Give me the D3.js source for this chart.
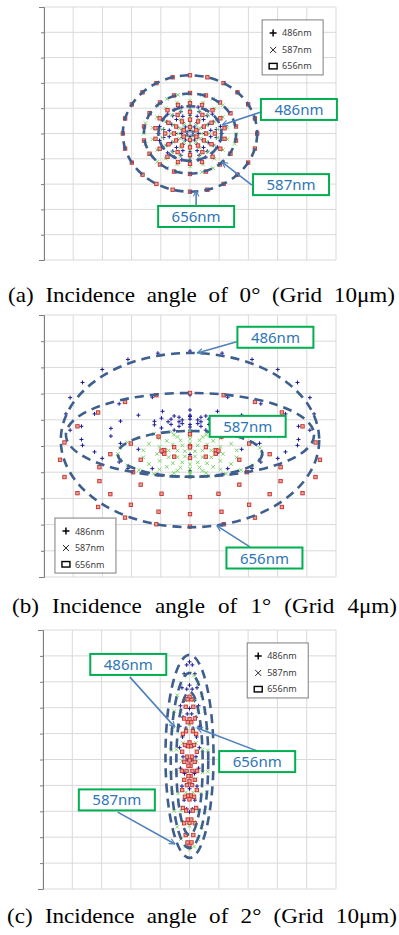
<!DOCTYPE html>
<html>
<head>
<meta charset="utf-8">
<script src="https://cdn.jsdelivr.net/npm/d3@7"></script>
<style>
  body { margin: 0; background: #fff; }
  .caption { font-family: "Liberation Serif", "Times New Roman", Times, serif; }
</style>
</head>
<body>
<svg class="chart"></svg>
<script>
let width = 399,
  height = 935;

const waves = ["486nm", "587nm", "656nm"];
const captions = [
  "(a) Incidence angle of 0° (Grid 10μm)",
  "(b) Incidence angle of 1° (Grid 4μm)",
  "(c) Incidence angle of 2° (Grid 10μm)"
];
const gridSteps = [10, 4, 10]; // μm per grid cell

// ray rings: [centre y, half width, half height, rays] in μm
const a486 = [[0, 1.2, 1.2, 6], [0, 3, 3, 12], [0, 5, 5, 12], [0, 7.2, 7.2, 18], [0, 9.2, 9.2, 18], [0, 10.8, 10.8, 24]];
const a587 = [[0, 1.8, 1.8, 6], [0, 4, 4, 12], [0, 6.5, 6.5, 12], [0, 9.5, 9.5, 18], [0, 13, 13, 18], [0, 15.8, 15.8, 24]];
const a656 = [[0, 2.5, 2.5, 6], [0, 5.5, 5.5, 12], [0, 8.5, 8.5, 12], [0, 12, 12, 18], [0, 16, 16, 18], [0, 23, 23, 24]];

const b486 = [[3.7, 1.5, 0.4, 8], [3.7, 3, 0.8, 12], [3.5, 5, 1.2, 14], [2.1, 11, 3.4, 18], [2.0, 15.1, 5.8, 18], [4.9, 17, 9.6, 24]];
const b587 = [[-1.2, 0.8, 0.8, 6], [-1.2, 1.8, 1.6, 10], [-1.2, 3, 2.3, 14], [-1.2, 4.5, 2.8, 16], [-1.2, 6.5, 3.1, 18], [-1.2, 9.9, 3.5, 24]];
const b656 = [[-0.9, 3.7, 0.9, 10], [-4.0, 7.8, 3.8, 12], [-4.3, 12.6, 6.1, 18], [-2.1, 17.8, 10.2, 24]];

const c486 = [[8.7, 1.3, 11, 10], [8.7, 2.4, 20, 16], [8.7, 3.4, 29, 22]];
const c587 = [[-0.6, 2.5, 14, 12], [-0.6, 4.5, 25, 18], [-0.6, 6.3, 34, 26]];
const c656 = [[-4.4, 0.4, 4, 6], [-4.4, 1, 11, 12], [-4.4, 1.8, 20, 18], [-4.4, 2.6, 28.6, 24]];

// dashed envelopes drawn over the spots: [centre y, half width, half height]
const aOutline = [[0, 10.8, 10.8], [0, 15.8, 15.8], [0, 23, 23]];
const bOutline = [[0.9, 17.7, 13.3], [1.7, 17.0, 6.4], [-1.2, 9.9, 3.5]];
const cOutline = [[1.2, 8.2, 39.2], [-0.4, 6.4, 33.8], [-1.5, 4.5, 27.6]];

// callouts: [label, box x, box y, arrow from x, from y, to x, to y] in μm
const aCallouts = [["486nm", 37.3, 9.5, 24.3, 8.5, 11.0, 3.4], ["587nm", 34.6, -20.2, 21.2, -20.4, 11.0, -11.3], ["656nm", 2.1, -32.8, 2.1, -28.7, 2.1, -22.7]];
const bCallouts = [["486nm", 11.7, 16.6, 6.4, 15.9, 1.0, 14.2], ["587nm", 7.9, 3.0], ["656nm", 10.2, -17.1, 8.2, -15.4, 3.7, -12.2]];
const cCallouts = [["486nm", -20.9, 36.7, -20.4, 31.9, -5.0, 12.5], ["656nm", 23.1, -0.8, 23.1, 3.3, 2.6, 12.2], ["587nm", -24.8, -15.6, -24.5, -20.3, -5.0, -32.6]];

// legend top-left corner in μm
const legendAt = [[24.7, 44.9], [-18.5, -11.0], [19.7, 45.0]];

const spotSets = [[a486, a587, a656], [b486, b587, b656], [c486, c587, c656]];
const outlines = [aOutline, bOutline, cOutline];
const callouts = [aCallouts, bCallouts, cCallouts];

// page layout of the three plots
const frames = [
  { left: 44, right: 336, top: 7, bottom: 260, capY: 302, capX: [8, 395] },
  { left: 44, right: 336, top: 315, bottom: 577, capY: 613, capX: [12, 397] },
  { left: 43, right: 336, top: 630, bottom: 889, capY: 923, capX: [7, 397] }
];
const capStretch = 1.1; // the caption face is a little wider than Times

let svg = d3.select(".chart").attr("width", width).attr("height", height);

svg.append("defs").append("marker")
  .attr("id", "head")
  .attr("viewBox", "0 0 10 10")
  .attr("refX", 9).attr("refY", 5)
  .attr("markerWidth", 7).attr("markerHeight", 7)
  .attr("markerUnits", "userSpaceOnUse")
  .attr("orient", "auto")
  .append("path")
  .attr("d", "M1,1 L9,5 L1,9")
  .attr("fill", "none")
  .attr("stroke", "#4f81bd")
  .attr("stroke-width", 1.6);

const plusPath = "M-2,0H2M0,-2V2";
const crossPath = "M-1.8,-1.8L1.8,1.8M-1.8,1.8L1.8,-1.8";

function rayPoints(rings) {
  return rings.flatMap(([cy, rx, ry, n]) =>
    d3.range(n).map(k => {
      let t = (2 * Math.PI * k) / n - Math.PI / 2;
      return [rx * Math.cos(t), cy + ry * Math.sin(t)];
    })
  );
}

function drawMarker(sel, i) {
  if (i === 0) {
    sel.append("path").attr("d", plusPath).attr("stroke", "#1c1c96").attr("stroke-width", 1);
  } else if (i === 1) {
    sel.append("path").attr("d", crossPath).attr("stroke", "#6fd35a").attr("stroke-width", 0.9);
  } else {
    sel.append("rect").attr("x", -1.7).attr("y", -1.7).attr("width", 3.4).attr("height", 3.4)
      .attr("fill", "#e6a29a").attr("stroke", "#c8302a").attr("stroke-width", 0.9);
  }
}

frames.forEach((f, p) => {
  let step = gridSteps[p];
  let x = d3.scaleLinear().domain([-5 * step, 5 * step]).range([f.left, f.right]);
  let y = d3.scaleLinear().domain([-5 * step, 5 * step]).range([f.bottom, f.top]);
  let g = svg.append("g");
  let ticks = d3.range(-5, 6).map(k => k * step);

  // grid
  g.selectAll(".vgrid").data(ticks).enter().append("line")
    .attr("x1", d => x(d)).attr("x2", d => x(d))
    .attr("y1", f.top).attr("y2", f.bottom)
    .attr("stroke", "#d9d9d9").attr("stroke-width", 1);
  g.selectAll(".hgrid").data(ticks).enter().append("line")
    .attr("x1", f.left).attr("x2", f.right)
    .attr("y1", d => y(d)).attr("y2", d => y(d))
    .attr("stroke", "#d9d9d9").attr("stroke-width", 1);

  // left axis, no labels
  let ax = g.append("g").attr("transform", `translate(${f.left},0)`)
    .call(d3.axisLeft(y).tickValues(ticks).tickSizeInner(3).tickSizeOuter(5).tickFormat(""));
  ax.selectAll("path,line").attr("stroke", "#7f7f7f");

  // spots: 486 underneath, then 587, 656 on top
  [0, 1, 2].forEach(i => {
    g.selectAll(".s" + i).data(rayPoints(spotSets[p][i])).enter().append("g")
      .attr("transform", d => `translate(${x(d[0])},${y(d[1])})`)
      .each(function () { drawMarker(d3.select(this), i); });
  });

  // dashed envelopes
  g.selectAll(".env").data(outlines[p]).enter().append("ellipse")
    .attr("cx", x(0))
    .attr("cy", d => y(d[0]))
    .attr("rx", d => x(d[1]) - x(0))
    .attr("ry", d => y(0) - y(d[2]))
    .attr("fill", "none")
    .attr("stroke", "#3e5f8e")
    .attr("stroke-width", 2.6)
    .attr("stroke-dasharray", "9,6");

  // callouts
  callouts[p].forEach(c => {
    if (c.length > 3) {
      g.append("line")
        .attr("x1", x(c[3])).attr("y1", y(c[4]))
        .attr("x2", x(c[5])).attr("y2", y(c[6]))
        .attr("stroke", "#4f81bd").attr("stroke-width", 1.6)
        .attr("marker-end", "url(#head)");
    }
    g.append("rect")
      .attr("x", x(c[1]) - 38).attr("y", y(c[2]) - 10.5)
      .attr("width", 76).attr("height", 21)
      .attr("fill", "#fff").attr("stroke", "#00b050").attr("stroke-width", 2);
    g.append("text")
      .attr("x", x(c[1])).attr("y", y(c[2]) + 5.5)
      .attr("text-anchor", "middle")
      .attr("font-family", "'Noto Sans', sans-serif")
      .attr("font-size", 15)
      .attr("fill", "#2e75b6")
      .text(c[0]);
  });

  // legend
  let lx = x(legendAt[p][0]), ly = y(legendAt[p][1]);
  let lg = g.append("g").attr("transform", `translate(${lx},${ly})`);
  lg.append("rect").attr("width", 61).attr("height", 55)
    .attr("fill", "#fff").attr("stroke", "#7f7f7f").attr("stroke-width", 1);
  waves.forEach((w, i) => {
    let row = lg.append("g").attr("transform", `translate(11,${13 + i * 16.5})`);
    if (i === 0) row.append("path").attr("d", "M-3.5,0H3.5M0,-3.5V3.5").attr("stroke", "#000").attr("stroke-width", 1.5);
    else if (i === 1) row.append("path").attr("d", "M-3,-2.5L3,3.5M-3,3.5L3,-2.5").attr("stroke", "#222").attr("stroke-width", 1);
    else row.append("rect").attr("x", -4).attr("y", -2.5).attr("width", 8).attr("height", 5.5)
      .attr("fill", "#fff").attr("stroke", "#000").attr("stroke-width", 1.4);
    row.append("text").attr("x", 9).attr("y", 3.5)
      .attr("font-family", "'Noto Sans', sans-serif")
      .attr("font-size", 9).attr("fill", "#404040")
      .text(w);
  });

  // caption, justified by widening the word gaps
  let capG = svg.append("g")
    .attr("transform", `translate(${f.capX[0]},${f.capY}) scale(${capStretch},1)`);
  let cap = capG.append("text")
    .attr("class", "caption")
    .attr("x", 0).attr("y", 0)
    .style("font-size", "21px")
    .attr("fill", "#000")
    .text(captions[p]);
  let natural = cap.node().getComputedTextLength();
  let gaps = captions[p].split(" ").length - 1;
  let target = (f.capX[1] - f.capX[0]) / capStretch;
  cap.style("word-spacing", Math.max(0, (target - natural) / gaps) + "px");
});
</script>
</body>
</html>
